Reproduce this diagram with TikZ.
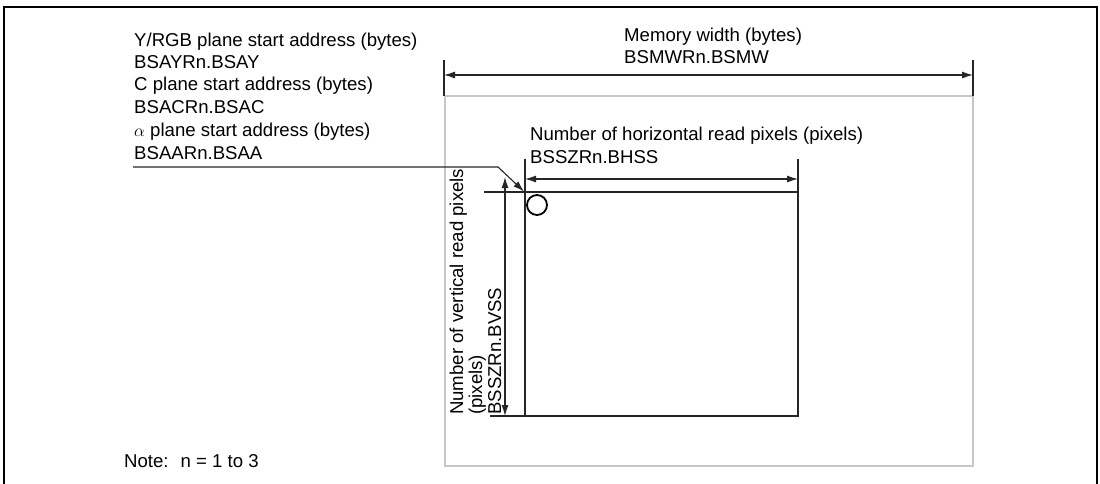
\documentclass[tikz,border=0pt]{standalone}
\usepackage{fontspec}
\setmainfont{Liberation Sans}
\usetikzlibrary{arrows.meta}
\tikzset{
  lbl/.style={anchor=base west, inner sep=0pt, font=\fontsize{18.6}{22}\selectfont},
  vlbl/.style={lbl, rotate=90},
  dim/.style={line width=1.1pt, draw=black!85},
  dimarrow/.style={dim, {Latex[length=11pt,width=7pt]}-{Latex[length=11pt,width=7pt]}},
  leader/.style={dim, -{Latex[length=11pt,width=7pt]}},
  frameline/.style={line width=2.4pt, draw=black},
  memarea/.style={line width=2.6pt, draw=black!22},
  readarea/.style={line width=2.6pt, draw=black!85},
}
\begin{document}
\begin{tikzpicture}[x=1pt,y=-1pt]
\useasboundingbox (0,0) rectangle (1100,483);

% outer frame (bottom edge lies outside the picture)
\draw[frameline] (4,500) -- (4,7) -- (1097,7) -- (1097,500);

% key coordinates
\coordinate (gTL) at (445,96);
\coordinate (gBR) at (973,466);
\coordinate (rTL) at (525,192);
\coordinate (rBR) at (798,416);

% memory area and read area
\draw[memarea] (gTL) rectangle (gBR);
\draw[readarea] (rTL) rectangle (rBR);
\draw[line width=1.8pt] (537,205) circle[radius=10pt];

% memory width dimension
\coordinate (mwL0) at (444,60);  \coordinate (mwL1) at (444,96);
\coordinate (mwR0) at (973,60);  \coordinate (mwR1) at (973,96);
\coordinate (mwA) at (444,75);   \coordinate (mwB) at (973,75);
\draw[dim] (mwL0) -- (mwL1);
\draw[dim] (mwR0) -- (mwR1);
\draw[dimarrow] (mwA) -- (mwB);

% horizontal read pixels dimension
\coordinate (hL0) at (525,159);  \coordinate (hR0) at (798,159);
\coordinate (hR1) at (798,192);
\coordinate (hA) at (525,179);   \coordinate (hB) at (798,179);
\draw[dim] (hL0) -- (rTL);
\draw[dim] (hR0) -- (hR1);
\draw[dimarrow] (hA) -- (hB);

% vertical read pixels dimension
\coordinate (vT0) at (484,192);
\coordinate (vB0) at (490,416);  \coordinate (vB1) at (525,416);
\coordinate (vA) at (505,177);   \coordinate (vB) at (505,416);
\draw[dim] (vT0) -- (rTL);
\draw[dim] (vB0) -- (vB1);
\draw[dimarrow] (vA) -- (vB);

% start address leader
\coordinate (ld0) at (133,167);
\coordinate (ld1) at (498,167);
\coordinate (ld2) at (524,191.5);
\draw[leader] (ld0) -- (ld1) -- (ld2);

% texts
\node[lbl] (t1) at (134,46.7) {Y/RGB plane start address (bytes)};
\node[lbl] (t2) at (134,68.3) {BSAYRn.BSAY};
\node[lbl] (t3) at (134,90.7) {C plane start address (bytes)};
\node[lbl] (t4) at (134,113.3) {BSACRn.BSAC};
\node[lbl] (t5) at (134,136.7) {$\alpha$ plane start address (bytes)};
\node[lbl] (t6) at (134,159.3) {BSAARn.BSAA};

\node[lbl] (m1) at (624,41.7) {Memory width (bytes)};
\node[lbl] (m2) at (624,63.3) {BSMWRn.BSMW};

\node[lbl] (h1) at (530,140) {Number of horizontal read pixels (pixels)};
\node[lbl] (h2) at (530,163) {BSSZRn.BHSS};

\node[vlbl] (v1) at (463,415) {Number of vertical read pixels};
\node[vlbl] (v2) at (482,415) {(pixels)};
\node[vlbl] (v3) at (501,415) {BSSZRn.BVSS};

\node[lbl] (note) at (124,467) {Note:~ n = 1 to 3};
\end{tikzpicture}
\end{document}
